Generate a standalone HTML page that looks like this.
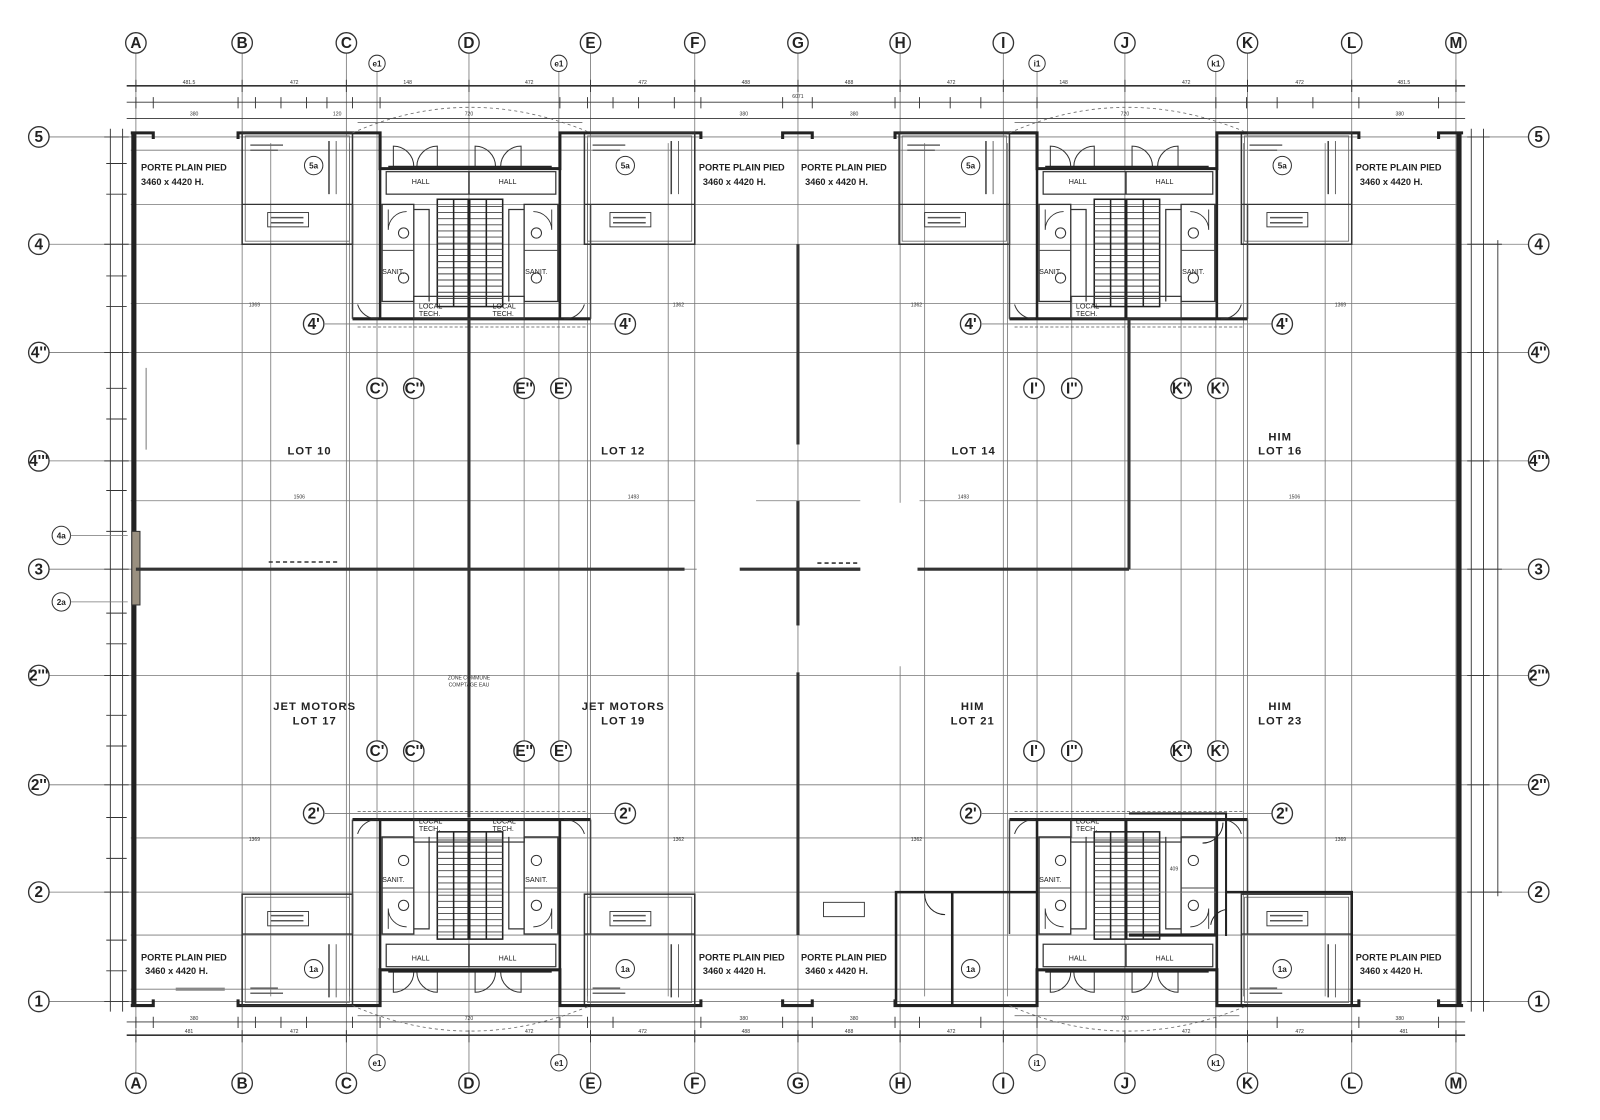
<!DOCTYPE html>
<html><head><meta charset="utf-8"><style>
html,body{margin:0;padding:0;background:#fff;}
svg{display:block;}
text{font-family:"Liberation Sans",sans-serif;}
.ax{font-weight:bold;font-size:15px;text-anchor:middle;fill:#222;}
.sm{font-size:5px;fill:#333;text-anchor:middle;}
.lbl{font-family:"Liberation Mono",monospace;font-size:9px;font-weight:bold;fill:#222;}
.lot{font-family:"Liberation Sans",sans-serif;font-size:11px;font-weight:bold;fill:#222;text-anchor:middle;letter-spacing:1px;}
</style></head><body>
<svg width="1600" height="1120" viewBox="0 0 1566 1096" preserveAspectRatio="none" xmlns="http://www.w3.org/2000/svg">
<rect width="1566" height="1096" fill="#fff"/>
<defs>
<g id="core">
  <path d="M345,130 H372 V165 H548 V130 H578" fill="none" stroke="#222" stroke-width="3"/>
  <line x1="372" y1="165" x2="372" y2="312" stroke="#222" stroke-width="2.5"/>
  <line x1="548" y1="165" x2="548" y2="312" stroke="#222" stroke-width="2.5"/>
  <line x1="345" y1="312" x2="578" y2="312" stroke="#222" stroke-width="3"/>
  <line x1="345" y1="200" x2="345" y2="312" stroke="#444" stroke-width="1.5"/>
  <line x1="578" y1="200" x2="578" y2="312" stroke="#444" stroke-width="1.5"/>
  <path d="M385,163 V143 A20,20 0 0 1 405,163 M428,163 V143 A20,20 0 0 0 408,163" fill="none" stroke="#333" stroke-width="1"/>
  <path d="M465,163 V143 A20,20 0 0 1 485,163 M510,163 V143 A20,20 0 0 0 490,163" fill="none" stroke="#333" stroke-width="1"/>
  <line x1="380" y1="163" x2="540" y2="163" stroke="#222" stroke-width="1.5"/>
  <rect x="378" y="168" width="166" height="22" fill="none" stroke="#333" stroke-width="1.2"/>
  <line x1="459" y1="168" x2="459" y2="190" stroke="#333" stroke-width="1.5"/>
  <rect x="428" y="195" width="64" height="105" fill="none" stroke="#222" stroke-width="1.5"/>
  <path d="M428,202H492M428,208H492M428,214H492M428,220H492M428,226H492M428,232H492M428,238H492M428,244H492M428,250H492M428,256H492M428,262H492M428,268H492M428,274H492M428,280H492M428,286H492M428,292H492" stroke="#444" stroke-width="0.9"/>
  <path d="M444,195V300M476,195V300" stroke="#222" stroke-width="1.5"/>
  <line x1="459" y1="195" x2="459" y2="312" stroke="#222" stroke-width="3"/>
  <rect x="374" y="200" width="31" height="95" fill="none" stroke="#333" stroke-width="1.3"/>
  <rect x="513" y="200" width="33" height="95" fill="none" stroke="#333" stroke-width="1.3"/>
  <path d="M405,205 H420 V295 M513,205 H498 V295" fill="none" stroke="#333" stroke-width="1.2"/>
  <line x1="374" y1="245" x2="405" y2="245" stroke="#444" stroke-width="1"/>
  <line x1="513" y1="245" x2="546" y2="245" stroke="#444" stroke-width="1"/>
  <circle cx="395" cy="228" r="5" fill="none" stroke="#333"/>
  <circle cx="395" cy="272" r="5" fill="none" stroke="#333"/>
  <circle cx="525" cy="228" r="5" fill="none" stroke="#333"/>
  <circle cx="525" cy="272" r="5" fill="none" stroke="#333"/>
  <path d="M380,205 V225 A18,18 0 0 1 398,207" fill="none" stroke="#333" stroke-width="0.9"/>
  <path d="M540,205 V225 A18,18 0 0 0 522,207" fill="none" stroke="#333" stroke-width="0.9"/>
  <rect x="405" y="290" width="108" height="22" fill="none" stroke="#333" stroke-width="1.2"/>
  <path d="M350,298 A20,20 0 0 0 370,312 M572,298 A20,20 0 0 1 552,312" fill="none" stroke="#333" stroke-width="1"/>
  <line x1="350" y1="320" x2="575" y2="320" stroke="#555" stroke-width="0.8" stroke-dasharray="3,2"/>
  <path d="M345,130 Q459,80 578,130" fill="none" stroke="#666" stroke-width="0.8" stroke-dasharray="3,3"/>
  <line x1="350" y1="120" x2="570" y2="120" stroke="#555" stroke-width="0.8"/>
</g>
<g id="office">
  <rect x="0" y="0" width="108" height="109" fill="none" stroke="#333" stroke-width="1.5"/>
  <rect x="3" y="3" width="102" height="103" fill="none" stroke="#666" stroke-width="0.8"/>
  <line x1="0" y1="70" x2="108" y2="70" stroke="#333" stroke-width="1.2"/>
  <rect x="25" y="78" width="40" height="14" fill="none" stroke="#333" stroke-width="0.9"/>
  <line x1="28" y1="83" x2="60" y2="83" stroke="#555" stroke-width="1.5"/>
  <line x1="28" y1="88" x2="60" y2="88" stroke="#555" stroke-width="1.5"/>
  <line x1="8" y1="12" x2="40" y2="12" stroke="#666" stroke-width="1.5"/>
  <line x1="8" y1="17" x2="35" y2="17" stroke="#666" stroke-width="1.5"/>
  <line x1="85" y1="8" x2="85" y2="60" stroke="#444" stroke-width="1.5"/>
  <line x1="92" y1="8" x2="92" y2="60" stroke="#444" stroke-width="0.8"/>
</g>
</defs>

<g stroke="#777" stroke-width="0.8">
  <path d="M133,52V1050 M237,52V1050 M339,52V1050 M459,52V1050 M578,52V1050 M680,52V1050 M781,52V1050 M881,52V1050 M982,52V1050 M1101,52V1050 M1221,52V1050 M1323,52V1050 M1425,52V1050"/>
  <path d="M48,134H1496 M48,239H1496 M318,317H602 M961,317H1245 M48,345H1496 M48,451H1496 M48,557H1496 M48,661H1496 M48,768H1496 M318,796H602 M961,796H1245 M48,873H1496 M48,980H1496"/>
  <path d="M369,70V1032 M547,70V1032 M1015,70V1032 M1190,70V1032"/>
  <path d="M405,290V725 M513,290V725 M1049,290V725 M1156,290V725 M405,745V820 M513,745V820 M1049,745V820 M1156,745V820"/>
  <path d="M128,147H1430 M128,200H1430 M128,297H1430 M128,490H680 M900,490H1430 M128,820H1430 M128,915H1430 M128,968H1430"/>
  <path d="M265,140V975 M654,140V975 M905,140V975 M1297,140V975 M342,140V975 M575,140V975 M986,140V975 M1217,140V975"/>
</g>

<g stroke="#333" stroke-width="0.9">
  <line x1="124" y1="84" x2="1434" y2="84" stroke-width="1.6"/>
  <line x1="124" y1="100" x2="1434" y2="100"/>
  <line x1="124" y1="116" x2="1434" y2="116"/>
  <line x1="124" y1="1000" x2="1434" y2="1000"/>
  <line x1="124" y1="1013" x2="1434" y2="1013" stroke-width="1.6"/>
  <line x1="108" y1="126" x2="108" y2="990"/>
  <line x1="120" y1="126" x2="120" y2="990"/>
  <line x1="1440" y1="126" x2="1440" y2="990"/>
  <line x1="1452" y1="126" x2="1452" y2="990"/>
  <line x1="1466" y1="235" x2="1466" y2="877"/>
  <path d="M133,78V90 M237,78V90 M339,78V90 M459,78V90 M578,78V90 M680,78V90 M781,78V90 M881,78V90 M982,78V90 M1101,78V90 M1221,78V90 M1323,78V90 M1425,78V90"/>
  <path d="M133,95V106 M150,95V106 M233,95V106 M250,95V106 M275,95V106 M300,95V106 M320,95V106 M345,95V106 M372,95V106 M548,95V106 M575,95V106 M600,95V106 M625,95V106 M660,95V106 M686,95V106 M766,95V106 M795,95V106 M876,95V106 M900,95V106 M930,95V106 M960,95V106 M1015,95V106 M1190,95V106 M1220,95V106 M1250,95V106 M1285,95V106 M1330,95V106 M1408,95V106"/>
  <path d="M133,995V1006 M150,995V1006 M233,995V1006 M250,995V1006 M275,995V1006 M300,995V1006 M345,995V1006 M372,995V1006 M548,995V1006 M575,995V1006 M600,995V1006 M686,995V1006 M766,995V1006 M795,995V1006 M876,995V1006 M900,995V1006 M960,995V1006 M1015,995V1006 M1190,995V1006 M1250,995V1006 M1330,995V1006 M1408,995V1006"/>
  <path d="M133,1008V1020 M237,1008V1020 M339,1008V1020 M459,1008V1020 M578,1008V1020 M680,1008V1020 M781,1008V1020 M881,1008V1020 M982,1008V1020 M1101,1008V1020 M1221,1008V1020 M1323,1008V1020 M1425,1008V1020"/>
  <path d="M102,134H126 M102,239H126 M102,345H126 M102,451H126 M102,557H126 M102,661H126 M102,768H126 M102,873H126 M102,980H126 M1436,134H1458 M1436,239H1470 M1436,345H1458 M1436,451H1458 M1436,557H1470 M1436,661H1458 M1436,768H1458 M1436,873H1470 M1436,980H1458"/>
  <path d="M104,160H124 M104,190H124 M104,270H124 M104,300H124 M104,380H124 M104,410H124 M104,480H124 M104,520H124 M104,600H124 M104,630H124 M104,700H124 M104,730H124 M104,800H124 M104,840H124 M104,920H124 M104,950H124"/>
</g>
<g class="sm">
  <text x="185" y="82">481.5</text><text x="288" y="82">472</text><text x="399" y="82">148</text><text x="518" y="82">472</text><text x="629" y="82">472</text><text x="730" y="82">488</text><text x="831" y="82">488</text><text x="931" y="82">472</text><text x="1041" y="82">148</text><text x="1161" y="82">472</text><text x="1272" y="82">472</text><text x="1374" y="82">481.5</text><text x="781" y="96">6071</text>
  <text x="190" y="113">380</text><text x="330" y="113">120</text><text x="459" y="113">720</text><text x="728" y="113">380</text><text x="836" y="113">380</text><text x="1101" y="113">720</text><text x="1370" y="113">380</text>
  <text x="190" y="998">380</text><text x="459" y="998">720</text><text x="728" y="998">380</text><text x="836" y="998">380</text><text x="1101" y="998">720</text><text x="1370" y="998">380</text>
  <text x="185" y="1011">481</text><text x="288" y="1011">472</text><text x="518" y="1011">472</text><text x="629" y="1011">472</text><text x="730" y="1011">488</text><text x="831" y="1011">488</text><text x="931" y="1011">472</text><text x="1161" y="1011">472</text><text x="1272" y="1011">472</text><text x="1374" y="1011">481</text>
</g>

<g fill="none" stroke="#222">
  <line x1="131" y1="130" x2="131" y2="985" stroke-width="5"/>
  <line x1="1428" y1="130" x2="1428" y2="985" stroke-width="5"/>
  <path d="M128,130H150 V136 M233,136 V130 H345 M578,130 H686 V136 M766,136V130H795V136 M876,136V130H1015 M1190,130H1330V136 M1408,136V130H1432" stroke-width="3"/>
  <path d="M128,984H150 V978 M233,978 V984 H345 M578,984 H686 V978 M766,978V984H795V978 M876,978V984H1015 M1190,984H1330V978 M1408,978V984H1432" stroke-width="3"/>
  <rect x="129" y="520" width="8" height="72" fill="#9a9080" stroke="#333" stroke-width="1"/>
  <line x1="172" y1="968" x2="220" y2="968" stroke="#888" stroke-width="3"/>
  <line x1="143" y1="360" x2="143" y2="440" stroke="#555" stroke-width="0.8"/>
</g>

<use href="#office" x="237" y="130"/>
<use href="#office" x="572" y="130"/>
<use href="#office" x="880" y="130"/>
<use href="#office" x="1215" y="130"/>
<g transform="translate(0,1114) scale(1,-1)">
  <use href="#office" x="237" y="130"/>
  <use href="#office" x="572" y="130"/>
  <use href="#office" x="1215" y="130"/>
</g>

<use href="#core"/>
<use href="#core" x="643"/>
<g transform="translate(0,1114) scale(1,-1)">
  <use href="#core"/>
  <use href="#core" x="643"/>
</g>

<g fill="none" stroke="#222">
  <path d="M877,984 V873 H1015" stroke-width="2.5"/>
  <line x1="932" y1="873" x2="932" y2="984" stroke-width="2.5"/>
  <path d="M905,875 A20,20 0 0 0 925,895" stroke-width="1"/>
  <path d="M1105,796 H1200 V916" stroke-width="2"/>
  <line x1="1105" y1="915" x2="1190" y2="915" stroke-width="3"/>
  <path d="M1197,805 A20,20 0 0 1 1177,825 M1185,905 A18,18 0 0 1 1200,890" stroke-width="1"/>
  <path d="M1200,873 H1323 V984" stroke-width="2.5"/>
  <line x1="1105" y1="873" x2="1190" y2="873" stroke="#777" stroke-width="0.8"/>
  <rect x="806" y="883" width="40" height="14" stroke="#333" stroke-width="0.9"/>
</g>

<g stroke="#333" fill="none">
  <line x1="133" y1="557" x2="670" y2="557" stroke-width="3"/>
  <line x1="724" y1="557" x2="842" y2="557" stroke-width="3"/>
  <line x1="890" y1="557" x2="1105" y2="557" stroke-width="3"/>
  <line x1="459" y1="312" x2="459" y2="800" stroke-width="3"/>
  <line x1="1105" y1="312" x2="1105" y2="557" stroke-width="3"/>
  <line x1="781" y1="239" x2="781" y2="435" stroke-width="3"/>
  <line x1="781" y1="490" x2="781" y2="612" stroke-width="3"/>
  <line x1="781" y1="658" x2="781" y2="915" stroke-width="3"/>
  <path d="M263,550H330 M728,551H760 M800,551H840" stroke-width="1.5" stroke-dasharray="4,3"/>
</g>
<g fill="#fff">
  <rect x="682" y="492" width="96" height="160"/>
  <rect x="784" y="492" width="58" height="52"/>
  <rect x="784" y="564" width="58" height="88"/>
  <rect x="842" y="492" width="56" height="160"/>
  <rect x="682" y="545" width="40" height="20"/>
  <rect x="846" y="545" width="42" height="20"/>
</g>
<line x1="781" y1="490" x2="781" y2="612" stroke="#333" stroke-width="3"/>
<line x1="724" y1="557" x2="842" y2="557" stroke="#333" stroke-width="3"/>
<line x1="740" y1="490" x2="842" y2="490" stroke="#777" stroke-width="0.8"/>

<g fill="#fff" stroke="#333" stroke-width="1.3">
  <circle cx="133" cy="42" r="10"/><circle cx="237" cy="42" r="10"/><circle cx="339" cy="42" r="10"/><circle cx="459" cy="42" r="10"/><circle cx="578" cy="42" r="10"/><circle cx="680" cy="42" r="10"/><circle cx="781" cy="42" r="10"/><circle cx="881" cy="42" r="10"/><circle cx="982" cy="42" r="10"/><circle cx="1101" cy="42" r="10"/><circle cx="1221" cy="42" r="10"/><circle cx="1323" cy="42" r="10"/><circle cx="1425" cy="42" r="10"/>
  <circle cx="133" cy="1060" r="10"/><circle cx="237" cy="1060" r="10"/><circle cx="339" cy="1060" r="10"/><circle cx="459" cy="1060" r="10"/><circle cx="578" cy="1060" r="10"/><circle cx="680" cy="1060" r="10"/><circle cx="781" cy="1060" r="10"/><circle cx="881" cy="1060" r="10"/><circle cx="982" cy="1060" r="10"/><circle cx="1101" cy="1060" r="10"/><circle cx="1221" cy="1060" r="10"/><circle cx="1323" cy="1060" r="10"/><circle cx="1425" cy="1060" r="10"/>
  <circle cx="38" cy="134" r="10"/><circle cx="38" cy="239" r="10"/><circle cx="38" cy="345" r="10"/><circle cx="38" cy="451" r="10"/><circle cx="38" cy="557" r="10"/><circle cx="38" cy="661" r="10"/><circle cx="38" cy="768" r="10"/><circle cx="38" cy="873" r="10"/><circle cx="38" cy="980" r="10"/>
  <circle cx="1506" cy="134" r="10"/><circle cx="1506" cy="239" r="10"/><circle cx="1506" cy="345" r="10"/><circle cx="1506" cy="451" r="10"/><circle cx="1506" cy="557" r="10"/><circle cx="1506" cy="661" r="10"/><circle cx="1506" cy="768" r="10"/><circle cx="1506" cy="873" r="10"/><circle cx="1506" cy="980" r="10"/>
  <circle cx="307" cy="317" r="10"/><circle cx="612" cy="317" r="10"/><circle cx="950" cy="317" r="10"/><circle cx="1255" cy="317" r="10"/>
  <circle cx="307" cy="796" r="10"/><circle cx="612" cy="796" r="10"/><circle cx="950" cy="796" r="10"/><circle cx="1255" cy="796" r="10"/>
  <circle cx="369" cy="380" r="10"/><circle cx="405" cy="380" r="10"/><circle cx="513" cy="380" r="10"/><circle cx="549" cy="380" r="10"/>
  <circle cx="1012" cy="380" r="10"/><circle cx="1049" cy="380" r="10"/><circle cx="1156" cy="380" r="10"/><circle cx="1192" cy="380" r="10"/>
  <circle cx="369" cy="735" r="10"/><circle cx="405" cy="735" r="10"/><circle cx="513" cy="735" r="10"/><circle cx="549" cy="735" r="10"/>
  <circle cx="1012" cy="735" r="10"/><circle cx="1049" cy="735" r="10"/><circle cx="1156" cy="735" r="10"/><circle cx="1192" cy="735" r="10"/>
</g>
<g fill="#fff" stroke="#333" stroke-width="1">
  <circle cx="369" cy="62" r="8"/><circle cx="547" cy="62" r="8"/><circle cx="1015" cy="62" r="8"/><circle cx="1190" cy="62" r="8"/>
  <circle cx="369" cy="1040" r="8"/><circle cx="547" cy="1040" r="8"/><circle cx="1015" cy="1040" r="8"/><circle cx="1190" cy="1040" r="8"/>
  <circle cx="307" cy="162" r="9"/><circle cx="612" cy="162" r="9"/><circle cx="950" cy="162" r="9"/><circle cx="1255" cy="162" r="9"/>
  <circle cx="307" cy="948" r="9"/><circle cx="612" cy="948" r="9"/><circle cx="950" cy="948" r="9"/><circle cx="1255" cy="948" r="9"/>
  <circle cx="60" cy="524" r="9"/><circle cx="60" cy="589" r="9"/>
</g>
<g stroke="#777" stroke-width="0.8">
  <path d="M69,524H125 M69,589H125"/>
</g>
<g class="ax">
  <text x="133" y="47">A</text><text x="237" y="47">B</text><text x="339" y="47">C</text><text x="459" y="47">D</text><text x="578" y="47">E</text><text x="680" y="47">F</text><text x="781" y="47">G</text><text x="881" y="47">H</text><text x="982" y="47">I</text><text x="1101" y="47">J</text><text x="1221" y="47">K</text><text x="1323" y="47">L</text><text x="1425" y="47">M</text>
  <text x="133" y="1065">A</text><text x="237" y="1065">B</text><text x="339" y="1065">C</text><text x="459" y="1065">D</text><text x="578" y="1065">E</text><text x="680" y="1065">F</text><text x="781" y="1065">G</text><text x="881" y="1065">H</text><text x="982" y="1065">I</text><text x="1101" y="1065">J</text><text x="1221" y="1065">K</text><text x="1323" y="1065">L</text><text x="1425" y="1065">M</text>
  <text x="38" y="139">5</text><text x="38" y="244">4</text><text x="38" y="350">4''</text><text x="38" y="456">4'''</text><text x="38" y="562">3</text><text x="38" y="666">2'''</text><text x="38" y="773">2''</text><text x="38" y="878">2</text><text x="38" y="985">1</text>
  <text x="1506" y="139">5</text><text x="1506" y="244">4</text><text x="1506" y="350">4''</text><text x="1506" y="456">4'''</text><text x="1506" y="562">3</text><text x="1506" y="666">2'''</text><text x="1506" y="773">2''</text><text x="1506" y="878">2</text><text x="1506" y="985">1</text>
  <text x="307" y="322">4'</text><text x="612" y="322">4'</text><text x="950" y="322">4'</text><text x="1255" y="322">4'</text>
  <text x="307" y="801">2'</text><text x="612" y="801">2'</text><text x="950" y="801">2'</text><text x="1255" y="801">2'</text>
  <text x="369" y="385">C'</text><text x="405" y="385">C''</text><text x="513" y="385">E''</text><text x="549" y="385">E'</text>
  <text x="1012" y="385">I'</text><text x="1049" y="385">I''</text><text x="1156" y="385">K''</text><text x="1192" y="385">K'</text>
  <text x="369" y="740">C'</text><text x="405" y="740">C''</text><text x="513" y="740">E''</text><text x="549" y="740">E'</text>
  <text x="1012" y="740">I'</text><text x="1049" y="740">I''</text><text x="1156" y="740">K''</text><text x="1192" y="740">K'</text>
</g>
<g style="font-size:8px;font-weight:bold;text-anchor:middle;fill:#222;font-family:'Liberation Sans',sans-serif">
  <text x="369" y="65">e1</text><text x="547" y="65">e1</text><text x="1015" y="65">i1</text><text x="1190" y="65">k1</text>
  <text x="369" y="1043">e1</text><text x="547" y="1043">e1</text><text x="1015" y="1043">i1</text><text x="1190" y="1043">k1</text>
  <text x="307" y="165">5a</text><text x="612" y="165">5a</text><text x="950" y="165">5a</text><text x="1255" y="165">5a</text>
  <text x="307" y="951">1a</text><text x="612" y="951">1a</text><text x="950" y="951">1a</text><text x="1255" y="951">1a</text>
  <text x="60" y="527">4a</text><text x="60" y="592">2a</text>
</g>

<g class="lbl">
  <text x="138" y="167">PORTE PLAIN PIED</text><text x="138" y="181">3460 x 4420 H.</text>
  <text x="684" y="167">PORTE PLAIN PIED</text><text x="688" y="181">3460 x 4420 H.</text>
  <text x="784" y="167">PORTE PLAIN PIED</text><text x="788" y="181">3460 x 4420 H.</text>
  <text x="1327" y="167">PORTE PLAIN PIED</text><text x="1331" y="181">3460 x 4420 H.</text>
  <text x="138" y="940">PORTE PLAIN PIED</text><text x="142" y="953">3460 x 4420 H.</text>
  <text x="684" y="940">PORTE PLAIN PIED</text><text x="688" y="953">3460 x 4420 H.</text>
  <text x="784" y="940">PORTE PLAIN PIED</text><text x="788" y="953">3460 x 4420 H.</text>
  <text x="1327" y="940">PORTE PLAIN PIED</text><text x="1331" y="953">3460 x 4420 H.</text>
</g>
<g style="font-size:7px;fill:#222;font-family:'Liberation Sans',sans-serif">
  <text x="403" y="180">HALL</text><text x="488" y="180">HALL</text><text x="1046" y="180">HALL</text><text x="1131" y="180">HALL</text>
  <text x="403" y="940">HALL</text><text x="488" y="940">HALL</text><text x="1046" y="940">HALL</text><text x="1131" y="940">HALL</text>
  <text x="374" y="268">SANIT.</text><text x="514" y="268">SANIT.</text><text x="1017" y="268">SANIT.</text><text x="1157" y="268">SANIT.</text>
  <text x="374" y="863">SANIT.</text><text x="514" y="863">SANIT.</text><text x="1017" y="863">SANIT.</text>
  <text x="410" y="302">LOCAL</text><text x="410" y="309">TECH.</text><text x="482" y="302">LOCAL</text><text x="482" y="309">TECH.</text>
  <text x="1053" y="302">LOCAL</text><text x="1053" y="309">TECH.</text>
  <text x="410" y="806">LOCAL</text><text x="410" y="813">TECH.</text><text x="482" y="806">LOCAL</text><text x="482" y="813">TECH.</text>
  <text x="1053" y="806">LOCAL</text><text x="1053" y="813">TECH.</text>
</g>
<g class="lot">
  <text x="303" y="445">LOT 10</text><text x="610" y="445">LOT 12</text><text x="953" y="445">LOT 14</text>
  <text x="1253" y="431">HIM</text><text x="1253" y="445">LOT 16</text>
  <text x="308" y="695">JET MOTORS</text><text x="308" y="709">LOT 17</text>
  <text x="610" y="695">JET MOTORS</text><text x="610" y="709">LOT 19</text>
  <text x="952" y="695">HIM</text><text x="952" y="709">LOT 21</text>
  <text x="1253" y="695">HIM</text><text x="1253" y="709">LOT 23</text>
</g>
<g class="sm">
  <text x="249" y="300">1369</text><text x="664" y="300">1362</text><text x="897" y="300">1362</text><text x="1312" y="300">1369</text>
  <text x="293" y="488">1506</text><text x="620" y="488">1493</text><text x="943" y="488">1493</text><text x="1267" y="488">1506</text>
  <text x="249" y="823">1369</text><text x="664" y="823">1362</text><text x="897" y="823">1362</text><text x="1312" y="823">1369</text>
  <text x="459" y="665">ZONE COMMUNE</text><text x="459" y="672">COMPTAGE EAU</text>
  <text x="1149" y="852">409</text>
</g>
</svg>
</body></html>
